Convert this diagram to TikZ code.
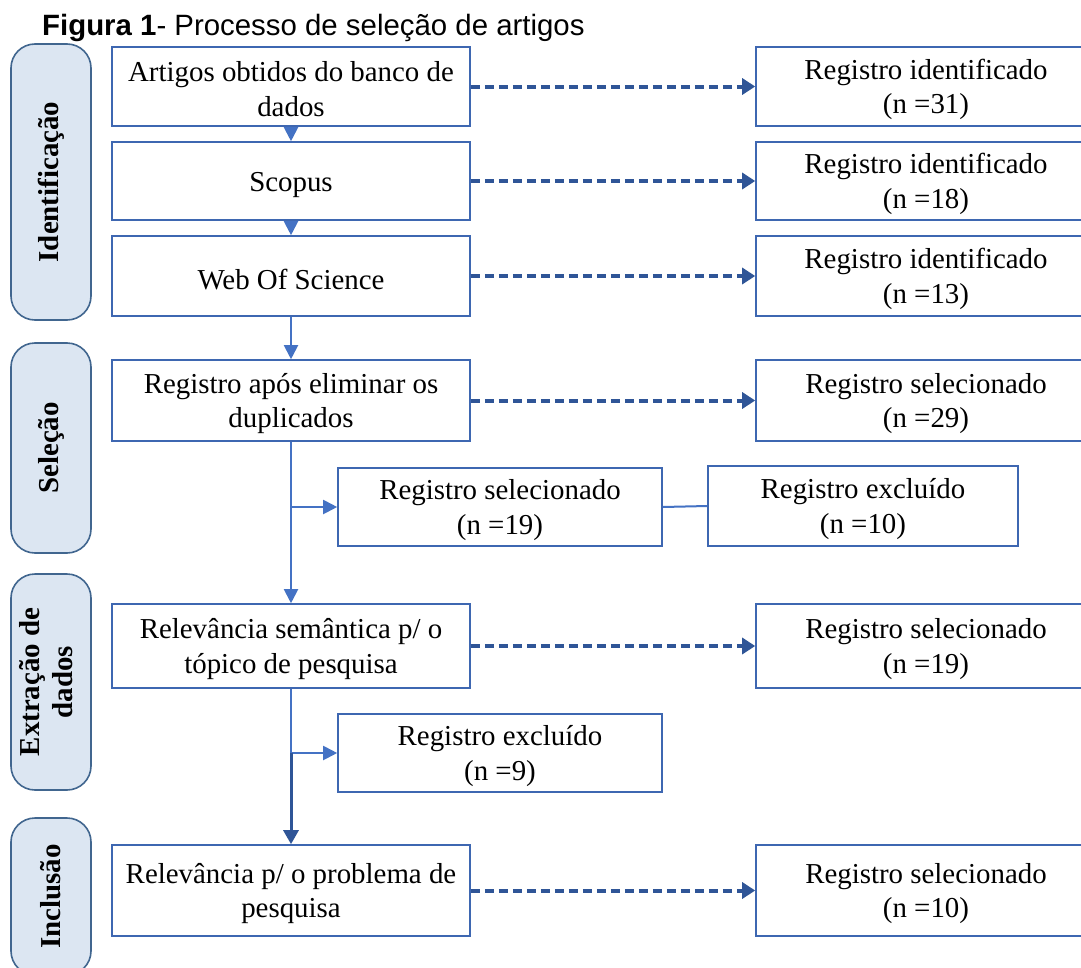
\documentclass[tikz,border=0pt]{standalone}
\usepackage{fontspec}
\setmainfont{Liberation Serif}
\newfontfamily\arialf{Liberation Sans}
\usetikzlibrary{arrows.meta}
\definecolor{boxblue}{HTML}{3E67B1}
\definecolor{lineblue}{HTML}{4472C4}
\definecolor{darkblue}{HTML}{2F5597}
\definecolor{lblfill}{HTML}{DCE6F2}
\definecolor{lbldraw}{HTML}{41668F}
\tikzset{
  txt/.style={font=\fontsize{29}{35}\selectfont, align=center},
  boxbase/.style={txt, draw=boxblue, line width=1.6bp, fill=white, inner sep=0pt},
  box/.style={boxbase, execute at begin node={\rule{0pt}{27bp}}},
  boxtwo/.style={boxbase, execute at begin node={\rule{0pt}{61bp}}},
  lbl/.style={font=\fontsize{29}{33}\selectfont\bfseries, align=center, draw=lbldraw, fill=lblfill, line width=1.6bp, rounded corners=24bp, rotate=90, inner sep=0pt},
  conn/.style={draw=lineblue, line width=2bp},
  flow/.style={conn, -{Triangle[length=14bp,width=14bp]}},
  flowdark/.style={draw=darkblue, line width=3bp, -{Triangle[length=14bp,width=15bp]}},
  dasharrow/.style={draw=darkblue, line width=4bp, dash pattern=on 9bp off 5bp, -{Triangle[length=13bp,width=16bp]}}
}
\begin{document}
\begin{tikzpicture}[x=1bp, y=-1bp]
\clip (0,0) rectangle (1081,968);
\fill[white] (0,0) rectangle (1081,968);
% title
\node[anchor=base west, inner sep=0pt, font=\arialf\fontsize{29.5}{35}\selectfont] (title) at (42,35) {\textbf{Figura 1}- Processo de seleção de artigos};
% side labels
\node[lbl, minimum width=276bp, minimum height=80bp] (L1) at (51,182) {Identificação};
\node[lbl, minimum width=210bp, minimum height=80bp] (L2) at (51,448) {Seleção};
\node[lbl, minimum width=216bp, minimum height=80bp, execute at end node={\rule[-10bp]{0pt}{0pt}}] (L3) at (51,682) {Extração de\\dados};
\node[lbl, minimum width=157bp, minimum height=80bp] (L4) at (51,896.5) {Inclusão};
% left column
\node[boxtwo, minimum width=358bp, minimum height=79bp] (B1) at (291,86.5) {Artigos obtidos do banco de\\dados};
\node[box, minimum width=358bp, minimum height=78bp] (B2) at (291,181) {Scopus};
\node[box, minimum width=358bp, minimum height=80bp] (B3) at (291,276) {Web Of Science};
\node[boxtwo, minimum width=358bp, minimum height=81bp] (B4) at (291,400.5) {Registro após eliminar os\\duplicados};
\node[boxtwo, minimum width=358bp, minimum height=84bp] (B5) at (291,646) {Relevância semântica p/ o\\tópico de pesquisa};
\node[boxtwo, minimum width=358bp, minimum height=91bp] (B6) at (291,890.5) {Relevância p/ o problema de\\pesquisa};
% right column
\node[boxtwo, minimum width=340bp, minimum height=79bp] (R1) at (926,86.5) {Registro identificado\\(n =31)};
\node[boxtwo, minimum width=340bp, minimum height=78bp] (R2) at (926,181) {Registro identificado\\(n =18)};
\node[boxtwo, minimum width=340bp, minimum height=80bp] (R3) at (926,276) {Registro identificado\\(n =13)};
\node[boxtwo, minimum width=340bp, minimum height=81bp] (R4) at (926,400.5) {Registro selecionado\\(n =29)};
\node[boxtwo, minimum width=340bp, minimum height=84bp] (R5) at (926,646) {Registro selecionado\\(n =19)};
\node[boxtwo, minimum width=340bp, minimum height=91bp] (R6) at (926,890.5) {Registro selecionado\\(n =10)};
% middle boxes
\node[boxtwo, minimum width=324bp, minimum height=78bp] (M1) at (500,507) {Registro selecionado\\(n =19)};
\node[boxtwo, minimum width=310bp, minimum height=80bp] (M2) at (863,506) {Registro excluído\\(n =10)};
\node[boxtwo, minimum width=324bp, minimum height=78bp] (M3) at (500,753) {Registro excluído\\(n =9)};
% vertical flow
\draw[flow] (B1.south) -- (B2.north);
\draw[flow] (B2.south) -- (B3.north);
\draw[flow] (B3.south) -- (B4.north);
\draw[flow] (B4.south) -- (B5.north);
\coordinate (j1) at (B4.south |- M1.west);
\draw[flow] (j1) -- (M1.west);
\draw[conn] (M1.east) -- (M2.west);
\coordinate (j2) at (B5.south |- M3.west);
\draw[conn] (B5.south) -- (j2);
\draw[flow] (j2) -- (M3.west);
\draw[flowdark] (j2) -- (B6.north);
% dashed arrows
\draw[dasharrow] (B1.east) -- (R1.west);
\draw[dasharrow] (B2.east) -- (R2.west);
\draw[dasharrow] (B3.east) -- (R3.west);
\draw[dasharrow] (B4.east) -- (R4.west);
\draw[dasharrow] (B5.east) -- (R5.west);
\draw[dasharrow] (B6.east) -- (R6.west);
\end{tikzpicture}
\end{document}
